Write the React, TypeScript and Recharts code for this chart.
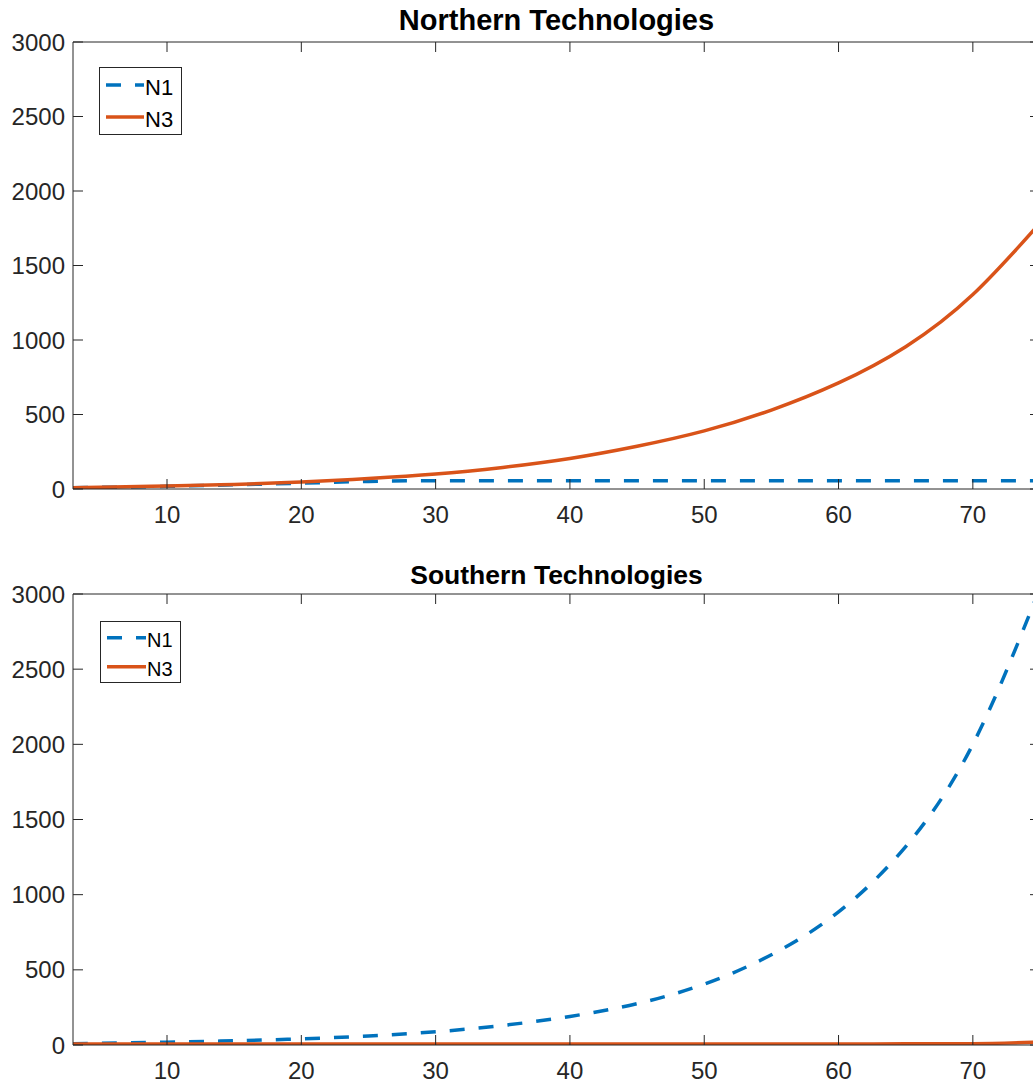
import React from 'react';
import { LineChart, Line, XAxis, YAxis, Legend } from 'recharts';

// ---- data ----
const years = [3, 5, 10, 15, 20, 25, 30, 35, 40, 45, 50, 55, 60, 65, 70, 75];
const northN1 = [9, 11, 18, 28, 39, 51, 56, 56, 56, 56, 56, 56, 56, 56, 56, 56];
const northN3 = [9, 11, 20, 31, 47, 70, 100, 145, 205, 287, 390, 530, 712, 955, 1305, 1785];
const southN1 = [8, 11, 19, 28, 41, 60, 88, 130, 190, 275, 405, 600, 885, 1320, 2000, 3040];
const southN3 = [7, 7, 7, 7, 7, 7, 7, 7, 7, 7, 7, 7, 7, 7.5, 9, 20];
const xTicks = [10, 20, 30, 40, 50, 60, 70];
const yTicks = [0, 500, 1000, 1500, 2000, 2500, 3000];
const seriesNames = ['N1', 'N3'];
const titles = ['Northern Technologies', 'Southern Technologies'];

const BLUE = '#0072BD';
const ORANGE = '#D95319';
const AX = '#262626';
const FONT = '"Liberation Sans", Arial, Helvetica, sans-serif';
const CHART_W = 1043;
const LW = 3.5;

const build = (a: number[], b: number[]) => years.map((t, i) => ({ t, n1: a[i], n3: b[i] }));
const blank = () => '';

type LegendCfg = {
  left: number; top: number; w: number; h: number;
  rows: number[]; lx1: number; lx2: number; tx: number; font: number; tdy: number;
};

const makeLegend = (cfg: LegendCfg) => (props: any) => {
  const payload = (props && props.payload) || [];
  return (
    <svg width={cfg.w} height={cfg.h} style={{ display: 'block' }}>
      <rect x={0.5} y={0.5} width={cfg.w - 1} height={cfg.h - 1} fill="#fff" stroke={AX} strokeWidth={1} />
      {payload.map((p: any, i: number) => {
        const dash = p && p.payload ? p.payload.strokeDasharray : undefined;
        return (
          <g key={i}>
            <line x1={cfg.lx1} x2={cfg.lx2} y1={cfg.rows[i]} y2={cfg.rows[i]} stroke={p.color} strokeWidth={LW}
              strokeDasharray={dash} />
            <text x={cfg.tx} y={cfg.rows[i] + cfg.tdy} dominantBaseline="central" fontFamily={FONT}
              fontSize={cfg.font} fill="#000">{p.value}</text>
          </g>
        );
      })}
    </svg>
  );
};

type PanelProps = {
  data: { t: number; n1: number; n3: number }[];
  title: string;
  top: number;
  height: number;
  marginTop: number;
  plotH: number;
  titleTop: number;
  titleSize: number;
  legend: LegendCfg;
  n1Type: 'monotone' | 'natural';
  n3Type: 'monotone' | 'natural';
};

function Panel({ data, title, top, height, marginTop, plotH, titleTop, titleSize, legend, n1Type, n3Type }: PanelProps) {
  const xHeight = height - marginTop - plotH;
  const tickStyle = { fill: AX, fontSize: 24, fontFamily: FONT };
  const hiddenTick = { fill: 'none', fontSize: 1 };
  return (
    <div style={{ position: 'absolute', left: 0, top, width: CHART_W, height }}>
      <div style={{
        position: 'absolute', left: 73, top: titleTop, width: 967, textAlign: 'center',
        fontFamily: FONT, fontWeight: 'bold', fontSize: titleSize, lineHeight: 1, color: '#000', zIndex: 2,
      }}>{title}</div>
      <LineChart width={CHART_W} height={height} data={data}
        margin={{ top: marginTop, right: 3, left: 0, bottom: 0 }}>
        <XAxis xAxisId="x" dataKey="t" type="number" domain={[3, 75]} ticks={xTicks} interval={0}
          allowDataOverflow height={xHeight} tickLine={false} tickSize={0} tickMargin={17}
          axisLine={{ stroke: AX, strokeWidth: 1 }} tick={tickStyle} />
        <XAxis xAxisId="xin" dataKey="t" type="number" domain={[3, 75]} ticks={xTicks} interval={0}
          allowDataOverflow mirror height={20} tick={hiddenTick} tickFormatter={blank} tickSize={10} axisLine={false}
          tickLine={{ stroke: AX, strokeWidth: 1 }} />
        <XAxis xAxisId="xtop" orientation="top" dataKey="t" type="number" domain={[3, 75]} ticks={xTicks}
          interval={0} allowDataOverflow mirror height={20} tick={hiddenTick} tickFormatter={blank} tickSize={10}
          axisLine={{ stroke: AX, strokeWidth: 1 }} tickLine={{ stroke: AX, strokeWidth: 1 }} />
        <YAxis yAxisId="y" type="number" domain={[0, 3000]} ticks={yTicks} interval={0} allowDataOverflow
          width={73} tickLine={false} tickSize={0} tickMargin={8}
          axisLine={{ stroke: AX, strokeWidth: 1 }} tick={tickStyle} />
        <YAxis yAxisId="yin" type="number" domain={[0, 3000]} ticks={yTicks} interval={0} allowDataOverflow
          mirror width={20} tick={hiddenTick} tickFormatter={blank} tickSize={10} axisLine={false}
          tickLine={{ stroke: AX, strokeWidth: 1 }} />
        <YAxis yAxisId="yright" orientation="right" type="number" domain={[0, 3000]} ticks={yTicks}
          interval={0} allowDataOverflow mirror width={20} tick={hiddenTick} tickFormatter={blank} tickSize={10}
          axisLine={{ stroke: AX, strokeWidth: 1 }} tickLine={{ stroke: AX, strokeWidth: 1 }} />
        <Line xAxisId="x" yAxisId="y" type={n1Type} dataKey="n1" name={seriesNames[0]} stroke={BLUE}
          strokeWidth={LW} strokeDasharray="15 14" dot={false} activeDot={false} isAnimationActive={false} />
        <Line xAxisId="x" yAxisId="y" type={n3Type} dataKey="n3" name={seriesNames[1]} stroke={ORANGE}
          strokeWidth={LW} dot={false} activeDot={false} isAnimationActive={false} />
        <Legend layout="vertical" align="center" verticalAlign="middle"
          wrapperStyle={{ left: legend.left, top: legend.top, width: legend.w, height: legend.h, margin: 0, padding: 0 }}
          content={makeLegend(legend)} />
      </LineChart>
    </div>
  );
}

export default function App() {
  const northData = build(northN1, northN3);
  const southData = build(southN1, southN3);
  return (
    <div style={{ position: 'absolute', left: 0, top: 0, width: 1033, height: 1086, overflow: 'hidden', background: '#fff' }}>
      <Panel data={northData} title={titles[0]} top={0} height={545} marginTop={42} plotH={447}
        titleTop={6} titleSize={29} n1Type="monotone" n3Type="natural"
        legend={{ left: 99, top: 67, w: 83, h: 68, rows: [18, 50], lx1: 7, lx2: 45, tx: 46, font: 22, tdy: 2.5 }} />
      <Panel data={southData} title={titles[1]} top={545} height={541} marginTop={49} plotH={451}
        titleTop={17} titleSize={26.5} n1Type="natural" n3Type="monotone"
        legend={{ left: 100, top: 76, w: 81, h: 62, rows: [16.7, 45.7], lx1: 7, lx2: 46, tx: 47, font: 20, tdy: 2 }} />
    </div>
  );
}
